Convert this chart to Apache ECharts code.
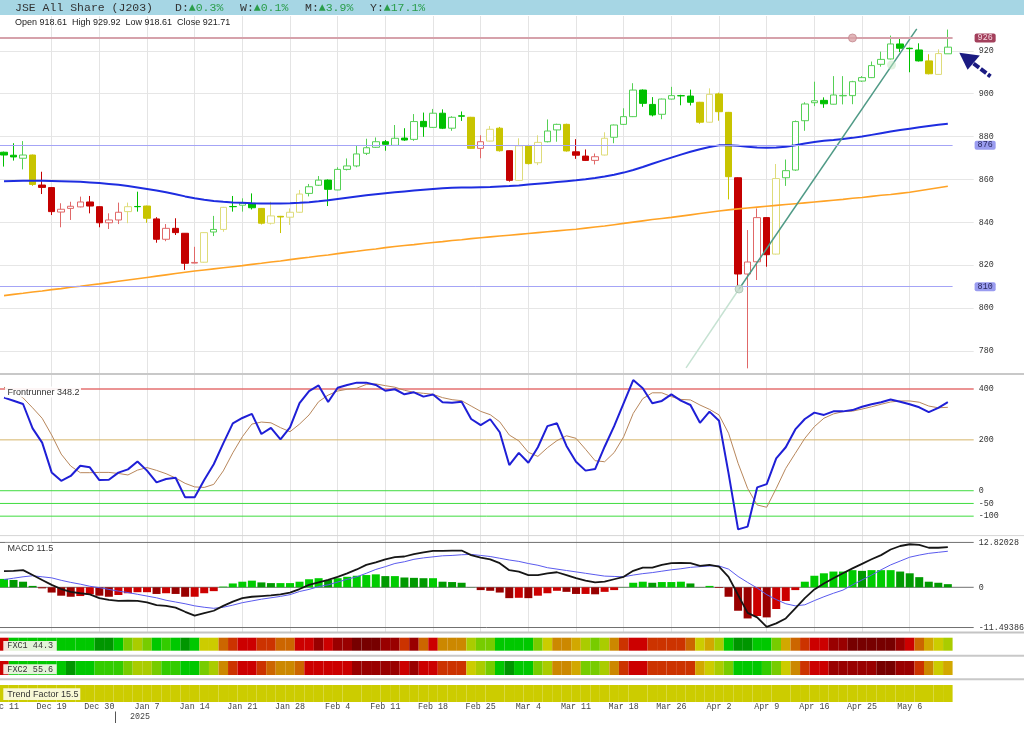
<!DOCTYPE html>
<html><head><meta charset="utf-8">
<script src="https://cdn.jsdelivr.net/npm/echarts@6/dist/echarts.min.js"></script>
<style>html,body{margin:0;padding:0;background:#fff}#c{width:1024px;height:735px}</style>
</head><body><div id="c"></div>
<script>
// ---------- DATA ----------
const dates = ['Dec 11','Dec 12','Dec 13','Dec 17','Dec 18','Dec 19','Dec 20','Dec 23','Dec 24','Dec 27','Dec 30','Dec 31',
'Jan 2','Jan 3','Jan 6','Jan 7','Jan 8','Jan 9','Jan 10','Jan 13','Jan 14','Jan 15','Jan 16','Jan 17','Jan 20','Jan 21','Jan 22','Jan 23','Jan 24','Jan 27','Jan 28','Jan 29','Jan 30','Jan 31',
'Feb 3','Feb 4','Feb 5','Feb 6','Feb 7','Feb 10','Feb 11','Feb 12','Feb 13','Feb 14','Feb 17','Feb 18','Feb 19','Feb 20','Feb 21','Feb 24','Feb 25','Feb 26','Feb 27','Feb 28',
'Mar 3','Mar 4','Mar 5','Mar 6','Mar 7','Mar 10','Mar 11','Mar 12','Mar 13','Mar 14','Mar 17','Mar 18','Mar 19','Mar 20','Mar 24','Mar 25','Mar 26','Mar 27','Mar 28','Mar 31',
'Apr 1','Apr 2','Apr 3','Apr 4','Apr 7','Apr 8','Apr 9','Apr 10','Apr 11','Apr 14','Apr 15','Apr 16','Apr 17','Apr 22','Apr 23','Apr 24','Apr 25','Apr 29','Apr 30',
'May 2','May 5','May 6','May 7','May 8','May 9','May 12'];

const opens = [872.7,871.3,869.9,871.4,857.4,856.2,844.8,846.5,847.2,849.5,
847.3,839.8,841.1,845.0,847.4,847.6,841.6,832.1,837.2,834.9,
821.0,821.4,835.5,836.7,847.4,848.0,848.9,846.5,839.6,842.8,
842.4,844.7,853.5,857.3,859.7,855.1,864.7,866.3,872.2,875.0,
877.6,875.9,879.3,878.7,887.1,884.3,890.9,883.9,889.7,889.0,
874.5,877.9,883.9,873.4,859.6,875.7,867.8,877.6,883.1,885.7,
872.9,870.9,868.9,871.4,879.7,885.7,889.3,901.7,895.0,890.4,
897.5,899.1,898.9,896.0,886.7,899.9,891.3,860.8,815.9,821.6,
842.2,825.2,860.8,864.4,887.4,895.8,896.9,895.1,899.0,899.1,
905.9,907.5,913.7,916.2,923.2,921.2,920.4,915.3,909.0,918.61];
const closes = [871.4,870.5,871.4,857.7,856.3,845.0,846.1,847.5,849.5,847.6,
839.8,841.1,844.7,847.3,847.3,841.9,832.1,837.2,835.2,820.9,
821.3,835.2,836.7,847.0,847.3,848.9,846.8,839.6,843.0,842.5,
844.7,853.2,856.6,859.7,855.4,864.7,866.3,871.9,874.8,877.6,
876.4,879.2,878.4,887.0,884.6,890.9,883.9,889.0,889.5,874.5,
877.6,883.4,873.4,859.6,875.7,867.4,877.3,882.6,885.7,873.3,
871.3,868.9,870.6,879.2,885.4,889.3,901.7,895.5,890.1,897.5,
899.1,899.0,896.0,886.7,899.7,891.6,861.3,815.9,821.5,842.2,
824.9,860.4,864.1,887.0,895.2,896.7,895.3,899.4,899.2,905.6,
907.5,913.1,916.0,923.2,921.2,921.0,915.3,909.3,918.7,921.71];
const lows = [866.0,868.8,864.7,857.0,853.2,843.4,837.7,841.1,847.0,844.2,
837.7,836.9,839.2,839.6,845.0,839.8,830.5,831.2,834.1,817.8,
820.9,821.2,833.6,835.6,845.0,845.0,846.0,839.0,839.0,835.0,
838.8,844.5,852.1,857.0,847.6,855.0,864.2,865.7,871.4,874.7,
873.4,875.8,878.0,878.0,879.9,884.0,883.5,882.7,887.3,874.3,
869.9,877.7,873.0,859.0,859.4,867.0,866.7,877.3,877.6,873.0,
869.6,868.6,867.0,871.2,876.9,885.4,889.1,893.9,889.4,888.1,
897.3,894.6,894.5,886.0,886.5,887.4,850.7,810.0,771.9,813.1,
819.3,825.0,857.0,864.0,882.7,894.2,893.4,895.0,895.0,895.1,
905.5,907.3,912.6,916.0,919.4,910.0,915.0,909.0,908.8,918.61];
const highs = [873.0,876.9,877.9,871.6,863.6,856.5,848.9,849.6,852.0,852.3,
847.5,844.2,849.2,849.2,854.3,847.8,842.4,839.2,841.9,835.0,
828.6,835.4,843.0,847.2,852.3,851.2,853.5,846.7,849.6,843.0,
846.5,855.1,857.9,861.6,860.0,865.7,869.8,875.6,879.0,879.6,
878.4,885.4,883.9,890.5,891.2,892.9,892.7,889.5,891.7,889.2,
880.6,884.9,884.5,873.5,879.2,876.2,880.6,888.0,886.0,886.0,
878.8,874.0,872.1,882.0,885.6,893.2,904.9,902.0,898.4,897.7,
903.2,899.5,901.9,896.2,902.5,900.5,891.5,861.0,836.4,846.5,
842.4,867.2,869.3,887.5,896.0,905.6,898.3,908.2,908.2,906.0,
908.2,915.0,919.6,927.1,925.9,921.5,923.5,918.4,920.7,929.92];
// candle colour group per day (g = green, r = red, y = yellow), written in groups of up to 5
const candleTones = ('ggg y rrrrr rrrr y g y rrrrr y g y ggg yyyyy ggggg ggggg ggggg gg y r yy r yyy gg y rrr y ' +
  'ggggg gggg yyyy rrrr y ggggg ggggg ggggg yy g').replace(/ /g,'').split('');

const maBlue = [859.2,859.3,859.4,859.4,859.4,859.3,859.2,859.1,858.9,858.6,
858.3,857.9,857.5,857.0,856.3,855.6,854.8,854.0,853.1,852.1,
851.2,850.5,850.0,849.6,849.3,849.1,848.9,848.8,848.8,848.8,
848.9,849.1,849.4,849.8,850.3,850.9,851.5,852.1,852.6,853.1,
853.6,854.0,854.4,854.8,855.2,855.6,855.9,856.1,856.2,856.3,
856.4,856.5,856.7,856.9,857.2,857.6,858.0,858.4,858.8,859.2,
859.6,860.1,860.7,861.4,862.2,863.2,864.4,865.8,867.3,868.8,
870.2,871.6,872.9,874.1,875.1,875.9,876.0,875.7,875.2,874.9,
874.8,874.9,875.3,876.0,876.8,877.5,878.0,878.4,878.9,879.4,
880.0,880.8,881.6,882.4,883.1,883.7,884.3,884.9,885.5,886.0];
const maOrange = [805.8,806.4,806.9,807.5,808.0,808.6,809.1,809.7,810.2,810.8,
811.3,811.9,812.5,813.1,813.7,814.3,814.9,815.5,816.1,816.7,
817.3,817.8,818.3,818.8,819.3,819.8,820.4,820.9,821.5,822.0,
822.6,823.2,823.7,824.3,824.8,825.4,826.0,826.5,827.1,827.6,
828.2,828.7,829.2,829.6,830.1,830.6,831.0,831.5,831.9,832.4,
832.8,833.2,833.6,834.0,834.4,834.8,835.2,835.6,836.0,836.4,
836.8,837.3,837.8,838.3,838.9,839.5,840.1,840.7,841.3,841.8,
842.3,842.9,843.5,844.1,844.7,845.3,845.8,846.3,846.7,847.1,
847.5,847.9,848.3,848.7,849.1,849.5,849.9,850.3,850.7,851.2,
851.6,852.1,852.6,853.0,853.5,854.0,854.7,855.4,856.1,856.8];

const priceLevels = [926, 876, 810];
const annotDot = [[89, 926]];
const trendLower = [[71.54, 772.1], [77.1, 808.9]];
const trendUpper = [[77.1, 808.9], [95.74, 930.2]];
const trendMarks = [[77.1, 808.9]];
const fadedMarks = [[93.1, 913.4]];

const frontrunner = [366,354,341,245,189,72,39,58,98,92,
42,43,71,84,115,79,33,46,51,-26,
-26,42,104,186,265,286,302,223,247,202,
249,344,392,414,349,405,416,425,425,416,
393,399,379,387,370,378,348,346,350,282,
258,281,230,101,149,110,171,254,265,176,
114,79,85,173,254,344,435,403,344,353,
379,354,337,267,311,275,68,-152,-141,13,
26,127,171,241,282,307,298,312,312,317,
330,340,348,359,350,340,328,309,326,348.2];
const frontSignal = [407,389,365,326,285,219,144,97,71,71,
72,72,68,62,81,91,80,67,50,29,
15,13,25,78,149,212,262,270,267,248,
232,262,298,350,376,392,399,403,418,420,
413,407,395,387,383,379,366,358,354,333,
312,299,271,219,196,151,135,169,197,216,
206,163,118,114,150,212,304,362,385,385,
370,359,357,337,320,298,226,108,9,-56,
-65,9,88,147,206,252,285,302,311,313,
321,330,340,349,353,353,348,333,326,328];
const frontLevels = [400, 200, 0, -50, -100];

const macdHist = [2.4,2.1,1.6,0.4,-0.3,-1.5,-2.4,-2.7,-2.5,-2.0,
-2.4,-2.7,-2.2,-1.7,-1.4,-1.4,-1.9,-1.7,-1.9,-2.7,
-2.7,-1.7,-1.1,0.2,1.1,1.6,1.9,1.4,1.2,1.2,
1.2,1.6,2.3,2.6,2.1,2.6,3.0,3.3,3.5,3.7,
3.2,3.2,2.8,2.7,2.6,2.6,1.6,1.5,1.3,0.05,
-0.8,-1.0,-1.5,-3.1,-3.0,-3.1,-2.4,-1.7,-1.0,-1.3,
-1.9,-1.9,-2.0,-1.3,-0.8,0.05,1.3,1.6,1.3,1.5,
1.5,1.6,1.1,0.05,0.4,-0.2,-2.7,-6.7,-8.9,-8.2,
-8.6,-6.2,-3.9,-0.8,1.6,3.3,4.0,4.5,4.5,4.9,
4.7,4.9,4.9,4.9,4.5,4.0,2.9,1.6,1.3,0.9];
const macdLine = [4.6,4.7,4.9,3.5,2.1,0.7,-0.5,-1.3,-1.7,-2.0,
-3.1,-3.6,-3.9,-3.8,-3.9,-4.3,-5.1,-5.3,-5.8,-7.0,
-8.1,-7.4,-6.7,-5.3,-4.1,-3.1,-2.7,-2.5,-2.3,-2.0,
-1.5,-0.5,0.7,1.4,2.1,3.0,4.0,5.1,6.4,7.1,
8.0,8.6,8.8,9.5,10.0,10.4,10.4,10.5,10.5,9.2,
8.5,8.0,6.9,4.9,4.5,3.5,3.5,4.0,4.3,3.5,
2.6,1.9,1.4,1.6,2.3,3.0,4.7,5.6,5.6,6.4,
6.9,7.0,6.9,6.1,6.4,5.9,3.0,-2.2,-7.3,-8.6,
-11.3,-10.3,-8.9,-6.0,-3.1,-0.6,1.1,2.6,4.0,5.4,
6.7,8.0,9.2,10.8,11.8,12.3,12.1,11.3,11.3,11.5];
const macdSignal = [2.2,2.6,3.0,3.3,3.0,2.7,2.0,1.4,0.9,0.3,
-0.1,-0.6,-1.1,-1.5,-2.0,-2.5,-3.0,-3.7,-4.2,-4.7,
-5.3,-5.7,-6.0,-5.7,-5.1,-4.4,-3.9,-3.4,-3.0,-2.6,
-2.1,-1.2,-0.6,0.2,0.7,1.5,2.3,3.0,4.0,5.1,
5.9,6.8,7.3,8.0,8.4,8.7,9.0,9.1,9.3,9.4,
9.1,8.8,8.3,7.8,7.4,6.8,6.3,5.6,5.2,4.8,
4.4,4.0,3.6,3.2,3.1,3.0,3.5,3.9,4.2,4.6,
5.0,5.3,5.7,5.9,6.1,6.1,5.2,3.1,1.4,-0.2,
-2.1,-3.5,-4.7,-5.3,-5.0,-3.8,-2.7,-1.7,-0.8,0.7,
2.1,3.5,5.0,6.4,7.5,8.6,9.2,9.7,10.0,10.3];
const macdLevels = [12.82028, 0, -11.49386];

const fxc1Levels = [2,11,11,11,11,11,11,11,11,11,12,12,11,9,8,9,11,10,11,12,11,7,7,4,3,2,2,3,3,4,4,2,2,1,2,1,1,0,0,0,1,1,3,1,4,2,5,5,5,8,9,9,11,11,11,11,9,7,5,5,6,8,9,8,5,3,2,2,3,3,3,3,4,7,6,8,11,12,12,11,11,9,6,4,3,2,2,1,1,0,0,0,0,0,1,2,4,6,7,8];
const fxc2Levels = [2,11,11,11,11,11,11,12,11,11,10,10,10,9,8,8,9,10,10,11,11,9,8,5,3,2,2,3,4,5,5,4,2,2,2,2,2,1,1,1,1,1,2,1,2,2,3,3,3,7,8,9,11,12,11,11,9,8,5,5,6,9,9,8,5,3,2,2,3,3,3,3,3,6,7,8,9,11,11,11,10,9,7,5,3,2,2,1,1,1,1,1,0,0,1,1,3,5,7,6];
const trendFactorLevels = dates.map(() => 7);

// ---------- STYLE ----------
const MONO = "'Liberation Mono','DejaVu Sans Mono',monospace";
const SANS = "'Liberation Sans',Arial,sans-serif";
const AX = 8.4; // axis label font size
const heatPalette = ['#770000','#990000','#cc0000','#cc3300','#cc6600','#cc8800','#d2a800','#cccc00','#aacc00','#77cc00','#33cc00','#00c800','#009600'];
const toneStyle = {
  g: {solid:'#00c000', light:'#55d055'},
  r: {solid:'#c40000', light:'#e06868'},
  y: {solid:'#c8c400', light:'#dedc7a'}
};

const candleData = opens.map((o, i) => {
  const c = closes[i], t = toneStyle[candleTones[i]] || toneStyle.g;
  const hollow = c > o;
  const fill = hollow ? '#ffffff' : t.solid;
  const border = hollow ? t.light : t.solid;
  return {value:[o, c, lows[i], highs[i]], itemStyle:{color:fill, color0:fill, borderColor:border, borderColor0:border, borderColorDoji:border}};
});
const histData = macdHist.map((v, i) => {
  const prev = i > 0 ? macdHist[i-1] : v;
  let col;
  if (v >= 0) col = v >= prev ? '#00cc00' : '#009a00';
  else col = v < prev ? '#990000' : '#cc0000';
  return {value: v, itemStyle: {color: col}};
});
const stripData = lv => lv.map(l => ({value: 1, itemStyle: {color: heatPalette[l]}}));

const L = -0.77, RN = 71.4, RW = 50.3;
const G = (o) => Object.assign({left: L, right: RN, containLabel: false, outerBoundsMode: 'none'}, o);
const hidCat = (gi) => ({type:'category', gridIndex: gi, data: dates, boundaryGap: true, show: false});
const hidVal = (gi, min, max) => ({type:'value', gridIndex: gi, min, max, show: false});

const priceLevelStyle = [
  {line:'#d6a2ab', w:2, bg:'#a3405c', fg:'#f6d8e2'},
  {line:'#a4a4f6', w:1, bg:'#9a9cf0', fg:'#2a2a60'},
  {line:'#a4a4f6', w:1, bg:'#9a9cf0', fg:'#2a2a60'}
];
const frontLevelColors = ['#e47070','#d6b468','#3fdc3f','#3fdc3f','#3fdc3f'];

const series = [];
// price panel
series.push({
  type:'candlestick', xAxisIndex:0, yAxisIndex:0, data:candleData, barWidth:7, z:2, clip:false,
  markLine:{symbol:['none','none'], silent:true, animation:false,
    data: priceLevels.map((v,k)=>({yAxis:v, lineStyle:{color:priceLevelStyle[k].line, width:priceLevelStyle[k].w, type:'solid'},
      label:{show:true, position:'end', distance:22, formatter:String(v), color:priceLevelStyle[k].fg, backgroundColor:priceLevelStyle[k].bg,
        padding:[1,3,0,3], borderRadius:2, fontFamily:MONO, fontSize:AX}}))}
});
series.push({type:'line', xAxisIndex:0, yAxisIndex:0, data:maBlue, symbol:'none', lineStyle:{color:'#1e2de0', width:2}, z:3});
series.push({type:'line', xAxisIndex:0, yAxisIndex:0, data:maOrange, symbol:'none', lineStyle:{color:'#ffa326', width:1.6}, z:3});
series.push({type:'scatter', xAxisIndex:0, yAxisIndex:0, data:annotDot, symbolSize:8, itemStyle:{color:'#d9a4a8', borderColor:'#c48a90', borderWidth:1}, z:5});
series.push({type:'line', xAxisIndex:1, yAxisIndex:0, data:trendLower, symbol:'none', lineStyle:{color:'#c6e2d2', width:1.5}, z:4});
series.push({type:'line', xAxisIndex:1, yAxisIndex:0, data:trendUpper, symbol:'none', lineStyle:{color:'#4f9a86', width:1.5}, z:4});
series.push({type:'scatter', xAxisIndex:1, yAxisIndex:0, data:trendMarks, symbolSize:8, itemStyle:{color:'#c4dacb', borderColor:'#a6c2b2', borderWidth:1}, z:5});
series.push({type:'scatter', xAxisIndex:1, yAxisIndex:0, data:fadedMarks, symbolSize:9, itemStyle:{color:'rgba(190,230,190,0.6)'}, z:5});
// frontrunner
series.push({type:'line', xAxisIndex:2, yAxisIndex:1, data:frontSignal, symbol:'none', lineStyle:{color:'#b8875c', width:1}, z:3});
series.push({type:'line', xAxisIndex:2, yAxisIndex:1, data:frontrunner, symbol:'none', lineStyle:{color:'#1f1fd6', width:2}, z:4});
frontLevels.forEach((v,k)=>series.push({type:'line', xAxisIndex:3, yAxisIndex:2, data:[[0,v],[1,v]], symbol:'none', silent:true,
  lineStyle:{color:frontLevelColors[k], width: k===0?1.5:1}, z:2,
  endLabel:{show:true, formatter:String(v), distance:5, color:'#333', fontFamily:MONO, fontSize:AX}}));
// macd
series.push({type:'bar', xAxisIndex:4, yAxisIndex:3, data:histData, barWidth:8, z:2});
series.push({type:'line', xAxisIndex:4, yAxisIndex:3, data:macdSignal, symbol:'none', lineStyle:{color:'#5a5aee', width:1}, z:3});
series.push({type:'line', xAxisIndex:4, yAxisIndex:3, data:macdLine, symbol:'none', lineStyle:{color:'#161616', width:1.8}, z:4});
macdLevels.forEach((v)=>series.push({type:'line', xAxisIndex:5, yAxisIndex:4, data:[[0,v],[1,v]], symbol:'none', silent:true,
  lineStyle:{color:'#707070', width:1}, z:1,
  endLabel:{show:true, formatter:String(v), distance:5, color:'#333', fontFamily:MONO, fontSize:AX}}));
// strips
series.push({type:'bar', xAxisIndex:6, yAxisIndex:5, data:stripData(fxc1Levels), barCategoryGap:'0%', barWidth:'100%'});
series.push({type:'bar', xAxisIndex:7, yAxisIndex:6, data:stripData(fxc2Levels), barCategoryGap:'0%', barWidth:'100%'});
series.push({type:'bar', xAxisIndex:8, yAxisIndex:7, data:stripData(trendFactorLevels), barCategoryGap:'0%', barWidth:'100%'});
// axis-only grids
series.push({type:'line', xAxisIndex:9, yAxisIndex:8, data:[]});
series.push({type:'line', xAxisIndex:10, yAxisIndex:9, data:[]});

function T(text, x, y, font, fill, extra) {
  return Object.assign({type:'text', z:101, silent:true, style:{text, x, y, font, fill, textAlign:'left', align:'left', textVerticalAlign:'middle', verticalAlign:'middle'}}, extra||{});
}
function Ln(x1,y1,x2,y2,stroke,w,dash) {
  return {type:'line', z:100, silent:true, shape:{x1,y1,x2,y2}, style:{stroke, lineWidth:w, lineDash:dash||null}};
}
function R(x,y,w,h,fill) { return {type:'rect', z:100, silent:true, shape:{x,y,width:w,height:h}, style:{fill}}; }

const hdrFont = '11.5px ' + MONO;
const green = '#2a9d4a';
const graphic = [
  R(0,0,1024,15,'#a6d6e4'),
  T('JSE All Share (J203)', 15, 7.5, hdrFont, '#333'),
  T('D:', 175, 7.5, hdrFont, '#333'), T('\u25B20.3%', 188.8, 7.5, hdrFont, green),
  T('W:', 240, 7.5, hdrFont, '#333'), T('\u25B20.1%', 253.8, 7.5, hdrFont, green),
  T('M:', 305, 7.5, hdrFont, '#333'), T('\u25B23.9%', 318.8, 7.5, hdrFont, green),
  T('Y:', 370, 7.5, hdrFont, '#333'), T('\u25B217.1%', 383.8, 7.5, hdrFont, green),
  T('Open 918.61  High 929.92  Low 918.61  Close 921.71', 15, 22.5, '9px ' + SANS, '#222'),
  Ln(0,374,1024,374,'#c8c8c8',2),
  Ln(0,535.6,1024,535.6,'#d6d6d6',1),
  Ln(0,632.5,1024,632.5,'#c4c4c4',2),
  Ln(0,655.8,1024,655.8,'#c8c8c8',2),
  Ln(0,679.2,1024,679.2,'#c8c8c8',2),
  R(5,386.5,76,11,'rgba(255,255,255,0.9)'),
  T('Frontrunner 348.2', 7.5, 392.2, '9px ' + SANS, '#333'),
  R(5,542.8,47,11,'rgba(255,255,255,0.9)'),
  T('MACD 11.5', 7.5, 548.2, '9px ' + SANS, '#333'),
  R(3.3,641,53.4,10,'rgba(246,246,236,0.92)'),
  T('FXC1 44.3', 7.3, 646.2, '8.5px ' + MONO, '#333'),
  R(3.3,664.2,53.4,10,'rgba(246,246,236,0.92)'),
  T('FXC2 55.6', 7.3, 669.3, '8.5px ' + MONO, '#333'),
  R(3.3,688.3,77,11.7,'rgba(250,250,224,0.95)'),
  T('Trend Factor 15.5', 7.3, 694.3, '9px ' + SANS, '#333'),
  T('2025', 130, 717, AX + 'px ' + MONO, '#444'),
  Ln(115.5,711.5,115.5,723,'#555',1),
  {type:'polygon', z:102, silent:true, shape:{points:[[959.3,52.7],[979.8,55.6],[967.6,69.8]]}, style:{fill:'#1b1b82'}},
  Ln(973.5,63.5,990.5,76.3,'#1b1b82',4,[7,2])
];

const option = {
  animation:false,
  backgroundColor:'#ffffff',
  grid:[
    G({top:7.94, height:385.92}),                 //0 price
    G({top:375, height:157.7}),                   //1 frontrunner
    G({top:375, height:157.7, right:RW}),         //2 frontrunner levels
    G({top:538.3, height:93.8}),                  //3 macd
    G({top:538.3, height:93.8, right:RW}),        //4 macd levels
    G({top:637.7, height:13}),                    //5 fxc1
    G({top:661, height:14}),                      //6 fxc2
    G({top:685, height:17}),                      //7 trend factor
    G({top:7.94, height:385.92, right:RW}),       //8 price axis
    G({left:4, right:76.2, top:16, height:616})   //9 vertical grid
  ],
  xAxis:[
    hidCat(0), hidVal(0,-0.5,99.5), hidCat(1), hidVal(2,0,1), hidCat(3), hidVal(4,0,1), hidCat(5), hidCat(6),
    {type:'category', gridIndex:7, data:dates, boundaryGap:true, axisLine:{show:false}, axisTick:{show:false}, splitLine:{show:false},
     axisLabel:{interval:(i)=>i%5===0, fontFamily:MONO, fontSize:AX, color:'#444', margin:1}},
    hidVal(8,0,1),
    {type:'value', gridIndex:9, min:0, max:99, interval:5, axisLine:{show:false}, axisTick:{show:false}, axisLabel:{show:false},
     splitLine:{show:true, showMinLine:false, showMaxLine:false, lineStyle:{color:'#e4e4e4', width:1}}}
  ],
  yAxis:[
    hidVal(0,760,940), hidVal(1,-165,455), hidVal(2,-165,455), hidVal(3,-12.8,14), hidVal(4,-12.8,14),
    hidVal(5,0,1), hidVal(6,0,1), hidVal(7,0,1),
    {type:'value', gridIndex:8, min:760, max:940, interval:20, position:'right', axisLine:{show:false}, axisTick:{show:false},
     axisLabel:{margin:5, fontFamily:MONO, fontSize:AX, color:'#333', formatter:(v)=> (v<770||v>930)?'':String(v)},
     splitLine:{show:true, showMinLine:false, showMaxLine:false, lineStyle:{color:'#e6e6e6', width:1}}},
    hidVal(9,0,1)
  ],
  series,
  graphic
};
const chart = echarts.init(document.getElementById('c'), null, {renderer:'canvas'});
chart.setOption(option);
</script></body></html>
